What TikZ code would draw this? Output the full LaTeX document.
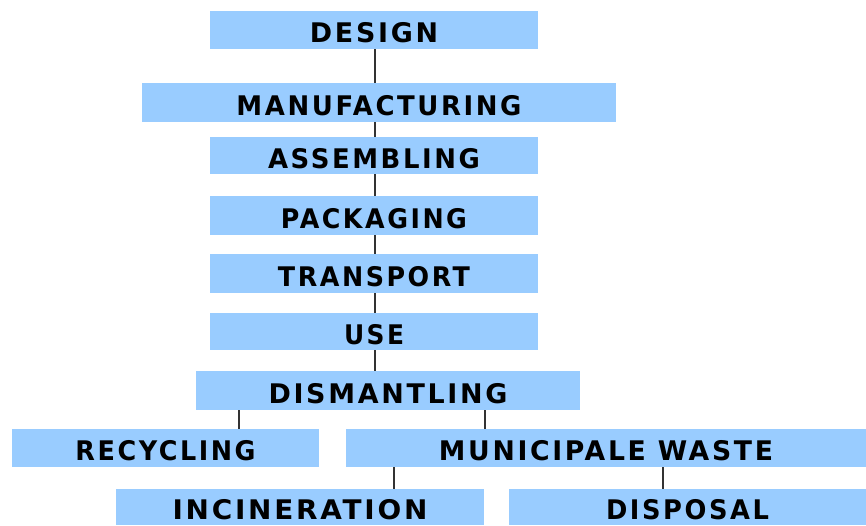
\documentclass[tikz,border=0pt]{standalone}
\usepackage{fontspec}
\setmainfont{DejaVu Sans}
\usepackage{graphicx}
\definecolor{boxblue}{HTML}{99CCFF}
\definecolor{linegray}{HTML}{333333}
\newcommand{\fitw}[2]{\raisebox{-2.5pt}[\height][0pt]{\resizebox{#1}{\height}{\bfseries\addfontfeature{LetterSpace=10}#2}}}
\tikzset{
  stage/.style={fill=boxblue, draw=none, inner sep=0pt, text=black,
    font=\fontsize{27}{27}\selectfont},
  conn/.style={draw=linegray, line width=2.2pt}
}
\begin{document}
\begin{tikzpicture}[x=1pt,y=-1pt]
\useasboundingbox (0,0) rectangle (866,525);
\coordinate (spine) at (375,0);
\node[stage, minimum width=328, minimum height=38] (design) at (374,30) {\fitw{128pt}{DESIGN}};
\node[stage, minimum width=474, minimum height=39] (manuf) at (379,102.5) {\fitw{285pt}{MANUFACTURING}};
\node[stage, minimum width=328, minimum height=37] (assem) at (374,155.5) {\fitw{212pt}{ASSEMBLING}};
\node[stage, minimum width=328, minimum height=39] (pack) at (374,215.5) {\fitw{186pt}{PACKAGING}};
\node[stage, minimum width=328, minimum height=39] (trans) at (374,273.5) {\fitw{192pt}{TRANSPORT}};
\node[stage, minimum width=328, minimum height=37] (use) at (374,331.5) {\fitw{60pt}{USE}};
\node[stage, minimum width=384, minimum height=39] (dism) at (388,390.5) {\fitw{239pt}{DISMANTLING}};
\node[stage, minimum width=307, minimum height=38] (recyc) at (165.5,448) {\fitw{180pt}{RECYCLING}};
\node[stage, minimum width=520, minimum height=38] (munic) at (606,448) {\fitw{334pt}{MUNICIPALE WASTE}};
\node[stage, minimum width=368, minimum height=36] (incin) at (300,507) {\fitw{255pt}{INCINERATION}};
\node[stage, minimum width=357, minimum height=36] (disp) at (687.5,507) {\fitw{163pt}{DISPOSAL}};
\coordinate (xrec) at (239,0);
\coordinate (xmun) at (485,0);
\coordinate (xinc) at (394,0);
\coordinate (xdis) at (663,0);
\draw[conn] (design.south -| spine) -- (manuf.north -| spine);
\draw[conn] (manuf.south -| spine) -- (assem.north -| spine);
\draw[conn] (assem.south -| spine) -- (pack.north -| spine);
\draw[conn] (pack.south -| spine) -- (trans.north -| spine);
\draw[conn] (trans.south -| spine) -- (use.north -| spine);
\draw[conn] (use.south -| spine) -- (dism.north -| spine);
\draw[conn] (dism.south -| xrec) -- (recyc.north -| xrec);
\draw[conn] (dism.south -| xmun) -- (munic.north -| xmun);
\draw[conn] (munic.south -| xinc) -- (incin.north -| xinc);
\draw[conn] (munic.south -| xdis) -- (disp.north -| xdis);
\end{tikzpicture}
\end{document}
